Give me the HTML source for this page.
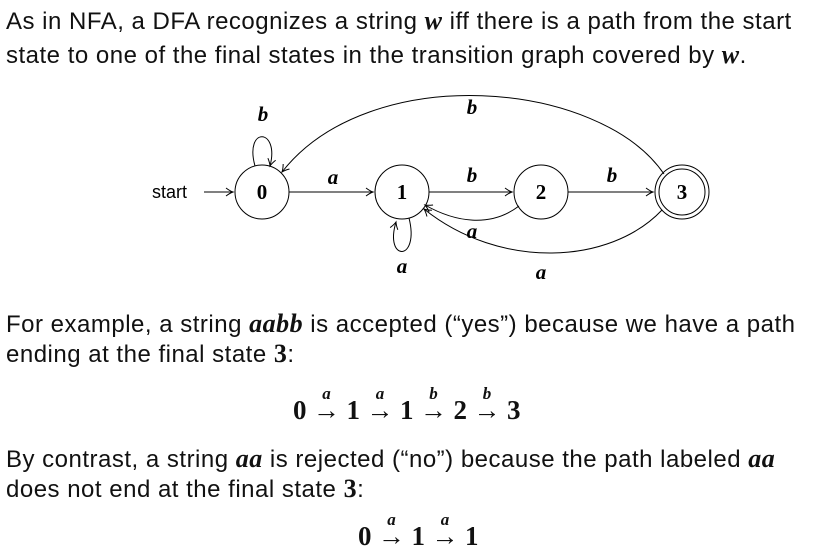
<!DOCTYPE html>
<html><head><style>
body{margin:0;width:837px;height:546px;background:#fff;position:relative;overflow:hidden;font-family:"Liberation Sans",sans-serif;color:#111}
.t{position:absolute;left:6px;font-size:24px;letter-spacing:0.5px;white-space:nowrap;line-height:1}
.m{font-family:"Liberation Serif",serif;font-style:italic;font-weight:bold;font-size:26px}
.n{font-family:"Liberation Serif",serif;font-weight:bold;font-size:26px}
.eq{position:absolute;font-family:"Liberation Serif",serif;font-weight:bold;font-size:27px;white-space:nowrap;line-height:1}
.ar{display:inline-block;position:relative;width:28px;margin:0 6px;text-align:center;font-weight:normal}
.ar i{position:absolute;left:0;right:0;top:-12px;font-size:17px;font-weight:bold}
</style></head><body>
<div class="t" style="top:8px">As in NFA, a DFA recognizes a string <span class="m">w</span> iff there is a path from the start</div>
<div class="t" style="top:42px">state to one of the final states in the transition graph covered by <span class="m">w</span>.</div>
<svg width="837" height="546" style="position:absolute;left:0;top:0" font-family="Liberation Serif,serif">
<defs><marker id="a" markerWidth="10" markerHeight="10" refX="8" refY="5" orient="auto" markerUnits="userSpaceOnUse"><path d="M1,1 Q5,4 8,5 Q5,6 1,9" fill="none" stroke="#000" stroke-width="1"/></marker></defs>
<g fill="none" stroke="#000" stroke-width="1">
<circle cx="262" cy="192" r="27"/><circle cx="402" cy="192" r="27"/><circle cx="541" cy="192" r="27"/>
<circle cx="682" cy="192" r="27"/><circle cx="682" cy="192" r="23"/>
<line x1="204" y1="192" x2="233" y2="192" marker-end="url(#a)"/>
<line x1="289" y1="192" x2="373" y2="192" marker-end="url(#a)"/>
<line x1="429" y1="192" x2="512" y2="192" marker-end="url(#a)"/>
<line x1="568" y1="192" x2="653" y2="192" marker-end="url(#a)"/>
<path d="M255,166 C244,126 280,128 270,166" marker-end="url(#a)"/>
<path d="M409,218 C420,262 384,262 396,222" marker-end="url(#a)"/>
<path d="M664,174 C600,80 370,60 282,172" marker-end="url(#a)"/>
<path d="M519,206 C490,228 455,222 425,205" marker-end="url(#a)"/>
<path d="M662,210 C610,265 500,270 424,209" marker-end="url(#a)"/>
</g>
<g font-size="21" text-anchor="middle">
<text x="262" y="199" font-weight="bold">0</text><text x="402" y="199" font-weight="bold">1</text>
<text x="541" y="199" font-weight="bold">2</text><text x="682" y="199" font-weight="bold">3</text>
<g font-style="italic" font-weight="bold">
<text x="263" y="121">b</text><text x="333" y="184">a</text><text x="472" y="182">b</text><text x="612" y="182">b</text>
<text x="472" y="114">b</text><text x="472" y="238">a</text><text x="402" y="273">a</text><text x="541" y="279">a</text></g>
</g>
<text x="152" y="198" font-family="Liberation Sans,sans-serif" font-size="18">start</text>
</svg>
<div class="t" style="top:311px">For example, a string <span class="m">aabb</span> is accepted (“yes”) because we have a path</div>
<div class="t" style="top:341px">ending at the final state <span class="n">3</span>:</div>
<div class="eq" style="top:397px;left:293px">0<span class="ar"><i>a</i>&#8594;</span>1<span class="ar"><i>a</i>&#8594;</span>1<span class="ar"><i>b</i>&#8594;</span>2<span class="ar"><i>b</i>&#8594;</span>3</div>
<div class="t" style="top:446px">By contrast, a string <span class="m">aa</span> is rejected (“no”) because the path labeled <span class="m">aa</span></div>
<div class="t" style="top:476px">does not end at the final state <span class="n">3</span>:</div>
<div class="eq" style="top:523px;left:358px">0<span class="ar"><i>a</i>&#8594;</span>1<span class="ar"><i>a</i>&#8594;</span>1</div>
</body></html>
